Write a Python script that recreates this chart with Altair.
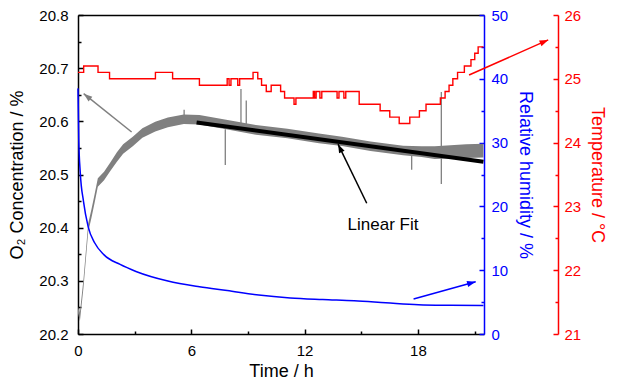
import math
import altair as alt
import pandas as pd

FONT = "Liberation Sans"
X_MAX = 21.5

# ---------------- data ----------------
# O2 concentration (grey noisy trace): lower / upper envelope of the noise band
o2_t = [0.00, 0.10, 0.29, 0.54, 0.71, 0.88, 1.05, 1.38, 1.72, 2.06, 2.39, 2.90, 3.41, 4.09,
        4.76, 5.60, 6.43, 7.70, 9.42, 11.09, 12.76, 13.98, 15.49, 17.22, 18.20, 18.89, 20.56, 21.47]
o2_high = [20.251, 20.240, 20.303, 20.408, 20.434, 20.463, 20.493, 20.505, 20.523, 20.542, 20.557,
           20.571, 20.587, 20.599, 20.607, 20.613, 20.612, 20.604, 20.593, 20.586, 20.577, 20.571,
           20.562, 20.554, 20.553, 20.553, 20.557, 20.558]
o2_low = [20.239, 20.224, 20.287, 20.392, 20.418, 20.447, 20.477, 20.489, 20.507, 20.524, 20.539,
          20.553, 20.569, 20.581, 20.589, 20.595, 20.594, 20.586, 20.575, 20.568, 20.559, 20.5535,
          20.544, 20.536, 20.533, 20.529, 20.531, 20.532]

# isolated spikes in the O2 trace
spike_t = [5.62, 7.80, 8.63, 8.91, 17.67, 19.24]
spike_lo = [20.600, 20.518, 20.590, 20.590, 20.509, 20.482]
spike_hi = [20.622, 20.585, 20.661, 20.639, 20.540, 20.655]

# linear fit
fit_t = [6.28, 21.47]
fit_o2 = [20.598, 20.524]

# relative humidity (blue)
rh_t = [0.00, 0.04, 0.12, 0.29, 0.54, 0.88, 1.38, 2.23, 3.07, 4.76, 6.43, 7.90, 9.57,
        11.24, 12.96, 14.63, 16.30, 18.03, 19.70, 21.47]
rh_val = [38.5, 30.5, 25.3, 20.8, 16.8, 14.3, 12.4, 10.9, 9.8, 8.3, 7.4, 6.8, 6.1,
          5.65, 5.4, 5.2, 4.9, 4.6, 4.5, 4.45]

# temperature (red, stepwise)
temp_t = [0.00, 0.30, 1.06, 1.67, 4.10, 5.01, 6.43, 7.90, 8.00, 8.10, 8.46, 8.56, 9.27, 9.52,
          9.72, 9.97, 10.23, 10.73, 10.94, 11.44, 11.54, 12.46, 12.53, 12.61, 12.81, 12.91,
          13.72, 13.82, 14.08, 14.18, 14.89, 16.00, 16.51, 17.01, 17.57, 18.08, 18.43, 19.19,
          19.44, 19.65, 19.85, 20.10, 20.46, 20.81, 21.01, 21.19, 21.47]
temp_val = [25.1, 25.2, 25.1, 25.0, 25.1, 25.0, 24.9, 25.0, 24.9, 25.0, 24.9, 25.0, 25.1, 25.0,
            24.9, 24.8, 24.9, 24.8, 24.7, 24.6, 24.7, 24.8, 24.7, 24.8, 24.7, 24.8,
            24.7, 24.8, 24.7, 24.8, 24.6, 24.5, 24.4, 24.3, 24.4, 24.5, 24.6, 24.7,
            24.8, 24.9, 25.0, 25.1, 25.2, 25.3, 25.4, 25.5, 25.5]

# annotation arrows (tail -> tip) in data units
grey_arrow_t = [2.84, 0.30]
grey_arrow_v = [20.58, 20.652]
black_arrow_t = [15.29, 13.77]
black_arrow_v = [20.446, 20.557]
blue_arrow_t = [17.77, 21.06]
blue_arrow_v = [5.5, 8.2]
red_arrow_t = [20.71, 24.9]
red_arrow_v = [25.06, 25.61]
label_t = [16.15]
label_v = [20.405]
label_text = ["Linear Fit"]

# axis ticks
x_major = [0, 6, 12, 18]
x_minor = [3, 9, 15, 21]
o2_major = [20.2, 20.3, 20.4, 20.5, 20.6, 20.7, 20.8]
o2_minor = [20.25, 20.35, 20.45, 20.55, 20.65, 20.75]
rh_major = [0, 10, 20, 30, 40, 50]
rh_minor = [5, 15, 25, 35, 45]
t_major = [21, 22, 23, 24, 25, 26]
t_minor = [21.5, 22.5, 23.5, 24.5, 25.5]

# ---------------- styling ----------------
BLUE = "#0000FF"
RED = "#FF0000"
GREY = "#808080"
BLACK = "#000000"
PW, PH = 408, 318           # approximate plot size, used for arrow-head angles
RED_OFFSET = 74

O2_DOM = [20.2, 20.8]
RH_DOM = [0, 50]
T_DOM = [21, 26]


def xs():
    return alt.Scale(domain=[0, X_MAX], nice=False, zero=False)


def ys(dom):
    return alt.Scale(domain=dom, nice=False, zero=False)


def tick_axis(orient, values, size, color, base=0):
    return alt.Axis(orient=orient, values=values, ticks=True, tickSize=size, tickWidth=1.5,
                    tickColor=color, offset=base - size, labels=False, domain=False,
                    title=None, grid=False)


def X(field, axis=None):
    return alt.X(f"{field}:Q", scale=xs(), axis=axis)


def Y(field, dom, axis=None):
    return alt.Y(f"{field}:Q", scale=ys(dom), axis=axis)


def head_angle(t, v, dom):
    dx = (t[1] - t[0]) / X_MAX * PW
    dy_up = (v[1] - v[0]) / (dom[1] - dom[0]) * PH
    return math.degrees(math.atan2(dx, dy_up)) % 360


HEAD = "M0,0L-0.35,1L0.35,1Z"

main_x_axis = alt.Axis(orient="bottom", values=x_major, format="d", ticks=False, tickSize=0,
                       labelPadding=9, labelFontSize=15, labelFont=FONT, labelColor=BLACK,
                       labelFlush=False, title="Time / h", titleFont=FONT, titleFontSize=18,
                       titleFontWeight="normal", titleColor=BLACK, titlePadding=4,
                       domainColor=BLACK, domainWidth=1.5, grid=False)
top_axis = alt.Axis(orient="top", ticks=False, labels=False, domain=True, domainColor=BLACK,
                    domainWidth=1.5, title=None, grid=False)
o2_axis = alt.Axis(orient="left", values=o2_major, format=".1f", ticks=False, tickSize=0,
                   labelPadding=10, labelFontSize=15, labelFont=FONT, labelColor=BLACK,
                   title="O₂ Concentration / %", titleFont=FONT, titleFontSize=18,
                   titleFontWeight="normal", titleColor=BLACK, titlePadding=12,
                   domainColor=BLACK, domainWidth=1.5, grid=False)
rh_axis = alt.Axis(orient="right", values=rh_major, format="d", ticks=False, tickSize=0,
                   labelPadding=7, labelFontSize=15, labelFont=FONT, labelColor=BLUE,
                   title="Relative humidity / %", titleFont=FONT, titleFontSize=18,
                   titleFontWeight="normal", titleColor=BLUE, titlePadding=8,
                   domainColor=BLUE, domainWidth=1.5, grid=False)
t_axis = alt.Axis(orient="right", offset=RED_OFFSET, values=t_major, format="d", ticks=False,
                  tickSize=0, labelPadding=6, labelFontSize=15, labelFont=FONT, labelColor=RED,
                  title="Temperature / °C", titleFont=FONT, titleFontSize=18,
                  titleFontWeight="normal", titleColor=RED, titlePadding=7,
                  domainColor=RED, domainWidth=1.5, grid=False)

# ---------------- data frames ----------------
o2_df = pd.DataFrame({"t": o2_t, "lo": o2_low, "hi": o2_high})
spike_df = pd.DataFrame({"t": spike_t, "lo": spike_lo, "hi": spike_hi})
fit_df = pd.DataFrame({"t": fit_t, "v": fit_o2})
rh_df = pd.DataFrame({"t": rh_t, "v": rh_val})
temp_df = pd.DataFrame({"t": temp_t, "v": temp_val})
ga_df = pd.DataFrame({"t": grey_arrow_t, "v": grey_arrow_v})
ba_df = pd.DataFrame({"t": black_arrow_t, "v": black_arrow_v})
bla_df = pd.DataFrame({"t": blue_arrow_t, "v": blue_arrow_v})
ra_df = pd.DataFrame({"t": red_arrow_t, "v": red_arrow_v})
lab_df = pd.DataFrame({"t": label_t, "v": label_v, "s": label_text})


def head(df, color, angle, dom, yaxis=None):
    return (alt.Chart(df.tail(1))
            .mark_point(shape=HEAD, filled=True, size=300, opacity=1, color=color, angle=angle)
            .encode(x=X("t"), y=Y("v", dom, yaxis)))


layers = []

# O2 band (main x + O2 axes)
layers.append(
    alt.Chart(o2_df)
    .mark_area(color=GREY, opacity=1)
    .encode(x=X("t", main_x_axis), y=Y("lo", O2_DOM, o2_axis), y2="hi:Q")
)
# spikes (carry the major ticks)
layers.append(
    alt.Chart(spike_df)
    .mark_rule(color=GREY, strokeWidth=1.3)
    .encode(x=X("t", tick_axis("bottom", x_major, 5, BLACK)),
            y=Y("lo", O2_DOM, tick_axis("left", o2_major, 5, BLACK)), y2="hi:Q")
)
# humidity line
layers.append(
    alt.Chart(rh_df)
    .mark_line(color=BLUE, strokeWidth=1.5, interpolate="monotone")
    .encode(x=X("t", tick_axis("bottom", x_minor, 3, BLACK)), y=Y("v", RH_DOM, rh_axis))
)
layers.append(
    alt.Chart(bla_df)
    .mark_line(color=BLUE, strokeWidth=1.5)
    .encode(x=X("t", top_axis), y=Y("v", RH_DOM, tick_axis("right", rh_major, 5, BLUE)))
)
layers.append(head(bla_df, BLUE, head_angle(blue_arrow_t, blue_arrow_v, RH_DOM), RH_DOM,
                   tick_axis("right", rh_minor, 3, BLUE)))
# temperature
layers.append(
    alt.Chart(temp_df)
    .mark_line(color=RED, strokeWidth=1.4, interpolate="step-after")
    .encode(x=X("t"), y=Y("v", T_DOM, t_axis))
)
layers.append(
    alt.Chart(ra_df)
    .mark_line(color=RED, strokeWidth=1.5)
    .encode(x=X("t"), y=Y("v", T_DOM, tick_axis("right", t_major, 5, RED, RED_OFFSET)))
)
layers.append(head(ra_df, RED, head_angle(red_arrow_t, red_arrow_v, T_DOM), T_DOM,
                   tick_axis("right", t_minor, 3, RED, RED_OFFSET)))
# linear fit
layers.append(
    alt.Chart(fit_df)
    .mark_line(color=BLACK, strokeWidth=4)
    .encode(x=X("t"), y=Y("v", O2_DOM, tick_axis("left", o2_minor, 3, BLACK)))
)
# grey arrow
layers.append(
    alt.Chart(ga_df).mark_line(color=GREY, strokeWidth=1.5).encode(x=X("t"), y=Y("v", O2_DOM))
)
layers.append(head(ga_df, GREY, head_angle(grey_arrow_t, grey_arrow_v, O2_DOM), O2_DOM))
# black arrow
layers.append(
    alt.Chart(ba_df).mark_line(color=BLACK, strokeWidth=1.5).encode(x=X("t"), y=Y("v", O2_DOM))
)
layers.append(head(ba_df, BLACK, head_angle(black_arrow_t, black_arrow_v, O2_DOM), O2_DOM))
# label
layers.append(
    alt.Chart(lab_df)
    .mark_text(font=FONT, fontSize=17, color=BLACK, align="center", baseline="middle")
    .encode(x=X("t"), y=Y("v", O2_DOM), text="s:N")
)

chart = (
    alt.layer(*layers)
    .resolve_scale(x="independent", y="independent")
    .resolve_axis(x="independent", y="independent")
    .properties(width=606, height=372,
                padding={"left": 0, "top": 0, "right": 8, "bottom": 0},
                autosize=alt.AutoSizeParams(type="fit", contains="padding"))
    .configure_view(stroke=None)
)

chart.save("out.html", embed_options={"renderer": "svg", "actions": False})
